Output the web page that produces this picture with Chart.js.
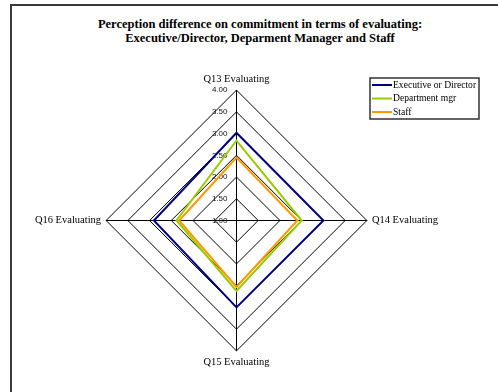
<!DOCTYPE html>
<html>
<head>
<meta charset="utf-8">
<script src="https://cdn.jsdelivr.net/npm/chart.js@4.4.0/dist/chart.umd.min.js"></script>
<style>
  html, body { margin: 0; padding: 0; background: #fff; overflow: hidden; }
  #wrap { position: relative; width: 498px; height: 392px; overflow: hidden; }
  #frame { position: absolute; left: 10px; top: 4px; width: 600px; height: 500px; border: 2px solid #3a3a3a; }
  #title { position: absolute; left: 40px; width: 440px; top: 17px; text-align: center;
           font: bold 12.5px "Liberation Serif", "Times New Roman", serif; line-height: 14px; color: #000; }
  #chart { position: absolute; left: 0; top: 0; }
</style>
</head>
<body>
<div id="wrap">
  <div id="frame"></div>
  <div id="title">Perception difference on commitment in terms of evaluating:<br>Executive/Director, Deparment Manager and Staff</div>
  <canvas id="chart" width="498" height="392"></canvas>
</div>
<script>
// Chart data
const questions = ['Q13 Evaluating', 'Q14 Evaluating', 'Q15 Evaluating', 'Q16 Evaluating'];
const executive = [3.02, 3.0, 3.0, 2.9];
const deptMgr = [2.84, 2.5, 2.62, 2.38];
const staff = [2.45, 2.4, 2.53, 2.32];
const seriesNames = ['Executive or Director', 'Department mgr', 'Staff'];
const seriesColors = ['#000080', '#99cc00', '#ff9900'];

// half pixel shift so the 1px grid lines come out crisp
const crispPlugin = {
    id: 'crisp',
    beforeDraw(chart) {
        chart.ctx.save();
        chart.ctx.translate(0.5, 0.5);
    },
    afterDraw(chart) {
        chart.ctx.restore();
    }
};

// tick labels drawn to the left of the vertical axis
const tickLabelPlugin = {
    id: 'tickLabels',
    beforeDatasetsDraw(chart) {
        const s = chart.scales.r;
        const ctx = chart.ctx;
        ctx.save();
        ctx.font = '8px "Liberation Sans", Arial, sans-serif';
        ctx.fillStyle = '#111';
        ctx.textAlign = 'right';
        ctx.textBaseline = 'middle';
        s.ticks.forEach(t => {
            const y = s.yCenter - s.getDistanceFromCenterForValue(t.value);
            ctx.fillText(t.value.toFixed(2), s.xCenter - 9, y);
        });
        ctx.restore();
    }
};

// boxed legend top right
const boxLegendPlugin = {
    id: 'boxLegend',
    afterDraw(chart) {
        const ctx = chart.ctx;
        const x = 370, y = 78, w = 109, h = 41;
        ctx.save();
        ctx.strokeStyle = '#333';
        ctx.lineWidth = 1.5;
        ctx.strokeRect(x, y, w, h);
        ctx.font = '9.6px "Liberation Serif", "Times New Roman", serif';
        ctx.textBaseline = 'middle';
        ctx.textAlign = 'left';
        chart.data.datasets.forEach((ds, i) => {
            const ly = y + 7 + i * 13.5;
            ctx.strokeStyle = ds.borderColor;
            ctx.lineWidth = 2;
            ctx.beginPath();
            ctx.moveTo(x + 2, ly);
            ctx.lineTo(x + 22, ly);
            ctx.stroke();
            ctx.fillStyle = '#000';
            ctx.fillText(ds.label, x + 23, ly);
        });
        ctx.restore();
    }
};

const ctx = document.getElementById('chart').getContext('2d');
new Chart(ctx, {
    type: 'radar',
    data: {
        labels: questions,
        datasets: [executive, deptMgr, staff].map((vals, i) => ({
            label: seriesNames[i],
            data: vals,
            borderColor: seriesColors[i],
            backgroundColor: 'transparent',
            borderWidth: 2,
            pointRadius: 0,
            fill: false,
            tension: 0
        }))
    },
    options: {
        responsive: false,
        animation: false,
        layout: { padding: { top: 73, bottom: 23, left: 5, right: 30 } },
        plugins: {
            legend: { display: false },
            title: { display: false },
            tooltip: { enabled: false }
        },
        scales: {
            r: {
                min: 1,
                max: 4,
                ticks: { stepSize: 0.5, display: false },
                grid: { circular: false, color: '#000', lineWidth: 1 },
                angleLines: { color: '#000', lineWidth: 1 },
                pointLabels: {
                    color: '#000',
                    padding: 5,
                    font: { family: '"Liberation Serif", "Times New Roman", serif', size: 10.5 }
                }
            }
        }
    },
    plugins: [crispPlugin, tickLabelPlugin, boxLegendPlugin]
});
</script>
</body>
</html>
